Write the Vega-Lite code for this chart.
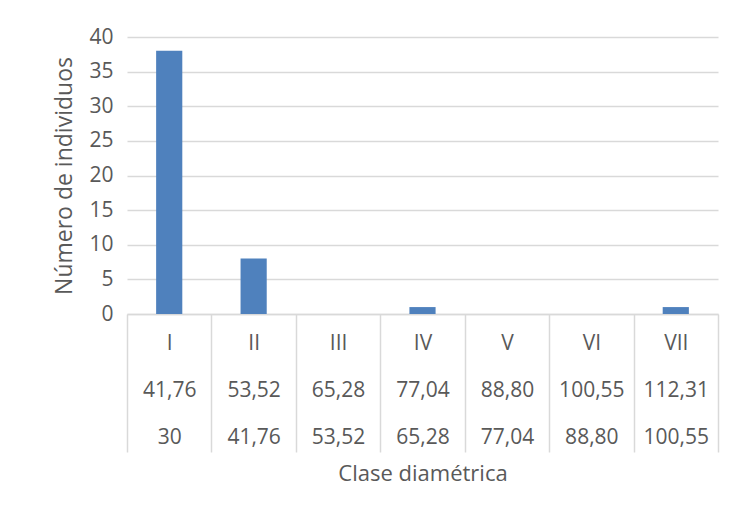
{
  "$schema": "https://vega.github.io/schema/vega-lite/v6.json",
  "width": 591,
  "height": 277,
  "autosize": "none",
  "padding": {"left": 127, "top": 37, "right": 15, "bottom": 201},
  "background": "white",
  "data": {
    "values": [
      {"clase": "I", "sup": "41,76", "inf": "30", "etiqueta": "I|41,76|30", "n": 38},
      {"clase": "II", "sup": "53,52", "inf": "41,76", "etiqueta": "II|53,52|41,76", "n": 8},
      {"clase": "III", "sup": "65,28", "inf": "53,52", "etiqueta": "III|65,28|53,52", "n": 0},
      {"clase": "IV", "sup": "77,04", "inf": "65,28", "etiqueta": "IV|77,04|65,28", "n": 1},
      {"clase": "V", "sup": "88,80", "inf": "77,04", "etiqueta": "V|88,80|77,04", "n": 0},
      {"clase": "VI", "sup": "100,55", "inf": "88,80", "etiqueta": "VI|100,55|88,80", "n": 0},
      {"clase": "VII", "sup": "112,31", "inf": "100,55", "etiqueta": "VII|112,31|100,55", "n": 1}
    ]
  },
  "mark": {"type": "bar", "width": {"band": 0.31}, "color": "#4f81bd"},
  "encoding": {
    "x": {
      "field": "etiqueta",
      "type": "ordinal",
      "sort": null,
      "scale": {"paddingInner": 0, "paddingOuter": 0},
      "axis": {
        "title": "Clase diamétrica",
        "labelExpr": "datum.value ? split(datum.value, '|') : ''",
        "labelAngle": 0,
        "labelLineHeight": 47,
        "labelBaseline": "middle",
        "labelOverlap": false,
        "labelPadding": -109,
        "labelFont": "Open Sans",
        "labelFontSize": 21,
        "labelColor": "#595959",
        "tickBand": "extent",
        "tickSize": 138,
        "tickColor": "#d9d9d9",
        "tickWidth": 1.5,
        "domainColor": "#d9d9d9",
        "domainWidth": 1.5,
        "titleFont": "Open Sans",
        "titleFontSize": 22,
        "titleFontWeight": "normal",
        "titleColor": "#595959",
        "titlePadding": 11
      }
    },
    "y": {
      "field": "n",
      "type": "quantitative",
      "scale": {"domain": [0, 40]},
      "axis": {
        "title": "Número de individuos",
        "values": [0, 5, 10, 15, 20, 25, 30, 35, 40],
        "grid": true,
        "gridColor": "#d9d9d9",
        "gridWidth": 1.5,
        "domain": false,
        "ticks": false,
        "labelPadding": 14,
        "labelFont": "Open Sans",
        "labelFontSize": 21,
        "labelColor": "#595959",
        "titleFont": "Open Sans",
        "titleFontSize": 23,
        "titleFontWeight": "normal",
        "titleColor": "#595959",
        "titlePadding": 12
      }
    }
  },
  "config": {"view": {"stroke": null}}
}
